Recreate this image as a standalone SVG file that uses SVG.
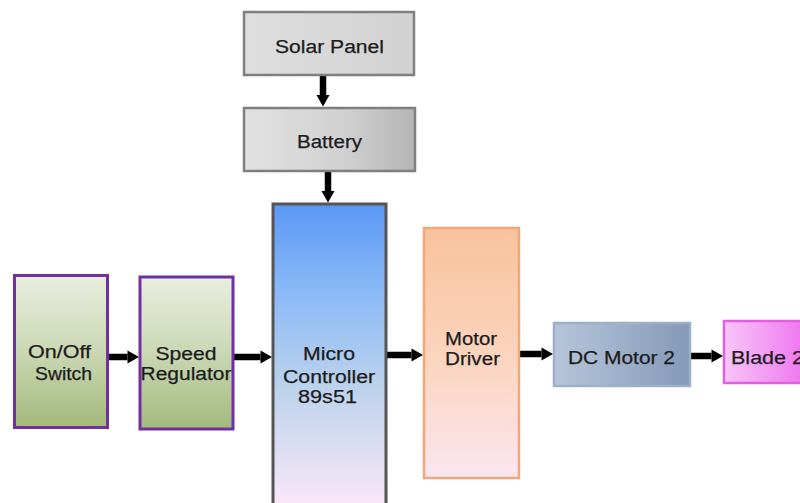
<svg xmlns="http://www.w3.org/2000/svg" width="800" height="503" viewBox="0 0 800 503">
<defs>
<linearGradient id="gSolar" x1="0" y1="0" x2="1" y2="0"><stop offset="0" stop-color="#dedede"/><stop offset="1" stop-color="#d2d2d2"/></linearGradient>
<linearGradient id="gBat" x1="0" y1="0" x2="1" y2="0"><stop offset="0" stop-color="#e2e2e2"/><stop offset="0.6" stop-color="#d0d0d0"/><stop offset="1" stop-color="#b4b4b4"/></linearGradient>
<linearGradient id="gGreen" x1="0" y1="0" x2="0" y2="1"><stop offset="0" stop-color="#e9eedf"/><stop offset="0.5" stop-color="#cbd7b4"/><stop offset="1" stop-color="#a3b97b"/></linearGradient>
<linearGradient id="gMC" x1="0" y1="0" x2="0" y2="1"><stop offset="0" stop-color="#5a98f6"/><stop offset="0.3" stop-color="#8cbaf6"/><stop offset="0.6" stop-color="#bcd2ec"/><stop offset="1" stop-color="#fbe8f8"/></linearGradient>
<linearGradient id="gMD" x1="0" y1="0" x2="0" y2="1"><stop offset="0" stop-color="#f9c29c"/><stop offset="0.5" stop-color="#fbd4bc"/><stop offset="1" stop-color="#fbe6f0"/></linearGradient>
<linearGradient id="gDC" x1="0" y1="0" x2="1" y2="0"><stop offset="0" stop-color="#b6c6da"/><stop offset="1" stop-color="#8499b8"/></linearGradient>
<linearGradient id="gBlade" x1="0" y1="0" x2="1" y2="0"><stop offset="0" stop-color="#f8c6f8"/><stop offset="1" stop-color="#ee6cee"/></linearGradient>
<marker id="ah" markerUnits="userSpaceOnUse" markerWidth="12" markerHeight="13" refX="0" refY="6.5" orient="auto" overflow="visible">
<path d="M0,0 L11.5,6.5 L0,13 Z" fill="#000"/>
</marker>
</defs>
<style>
.lbl{font-family:"Liberation Sans",Arial,sans-serif;font-size:18px;fill:#1c1c1c;text-anchor:middle;stroke:#1c1c1c;stroke-width:0.25}
.arr{stroke:#000;stroke-width:6.5;fill:none;marker-end:url(#ah)}
</style>
<rect width="800" height="503" fill="#fff"/>
<g id="connectors">
<line class="arr" x1="323" y1="75" x2="323" y2="95"/>
<line class="arr" x1="328" y1="171" x2="328" y2="191"/>
<line class="arr" x1="108" y1="357" x2="127.5" y2="357"/>
<line class="arr" x1="233" y1="357" x2="260.5" y2="357"/>
<line class="arr" x1="387" y1="355" x2="411.5" y2="355"/>
<line class="arr" x1="519" y1="354" x2="541.5" y2="354"/>
<line class="arr" x1="690" y1="356" x2="711.5" y2="356"/>
</g>
<g id="solar">
<rect x="244" y="12" width="170" height="63" fill="url(#gSolar)" stroke="#7f7f7f" stroke-width="2.5"/>
<text class="lbl" x="329.5" y="53" textLength="109" lengthAdjust="spacingAndGlyphs">Solar Panel</text>
</g>
<g id="battery">
<rect x="244" y="108" width="171" height="63" fill="url(#gBat)" stroke="#7f7f7f" stroke-width="2.5"/>
<text class="lbl" x="329.5" y="148" textLength="65" lengthAdjust="spacingAndGlyphs">Battery</text>
</g>
<g id="onoff">
<rect x="14.5" y="275.5" width="93" height="152" fill="url(#gGreen)" stroke="#7030a0" stroke-width="3"/>
<text class="lbl" x="59.5" y="358" textLength="63" lengthAdjust="spacingAndGlyphs">On/Off</text>
<text class="lbl" x="63.5" y="380" textLength="57" lengthAdjust="spacingAndGlyphs">Switch</text>
</g>
<g id="speed">
<rect x="140" y="277" width="93" height="152" fill="url(#gGreen)" stroke="#7030a0" stroke-width="3"/>
<text class="lbl" x="186" y="360" textLength="61" lengthAdjust="spacingAndGlyphs">Speed</text>
<text class="lbl" x="186" y="380" textLength="91" lengthAdjust="spacingAndGlyphs">Regulator</text>
</g>
<g id="mcu">
<rect x="273" y="204" width="113" height="305" fill="url(#gMC)" stroke="#555" stroke-width="3"/>
<text class="lbl" x="329" y="360" textLength="52" lengthAdjust="spacingAndGlyphs">Micro</text>
<text class="lbl" x="329" y="383" textLength="92" lengthAdjust="spacingAndGlyphs">Controller</text>
<text class="lbl" x="327.5" y="403" textLength="59" lengthAdjust="spacingAndGlyphs">89s51</text>
</g>
<g id="driver">
<rect x="424" y="228" width="95" height="250" fill="url(#gMD)" stroke="#f0a77a" stroke-width="2.5"/>
<text class="lbl" x="471" y="345" textLength="52" lengthAdjust="spacingAndGlyphs">Motor</text>
<text class="lbl" x="472.5" y="365" textLength="55" lengthAdjust="spacingAndGlyphs">Driver</text>
</g>
<g id="dcmotor">
<rect x="554" y="323" width="136" height="63" fill="url(#gDC)" stroke="#9eb0c8" stroke-width="2.5"/>
<text class="lbl" x="621.5" y="364" textLength="107" lengthAdjust="spacingAndGlyphs">DC Motor 2</text>
</g>
<g id="blade">
<rect x="724" y="321" width="90" height="62" fill="url(#gBlade)" stroke="#e25fe2" stroke-width="2.5"/>
<text class="lbl" x="767.5" y="364" textLength="73" lengthAdjust="spacingAndGlyphs">Blade 2</text>
</g>
</svg>
